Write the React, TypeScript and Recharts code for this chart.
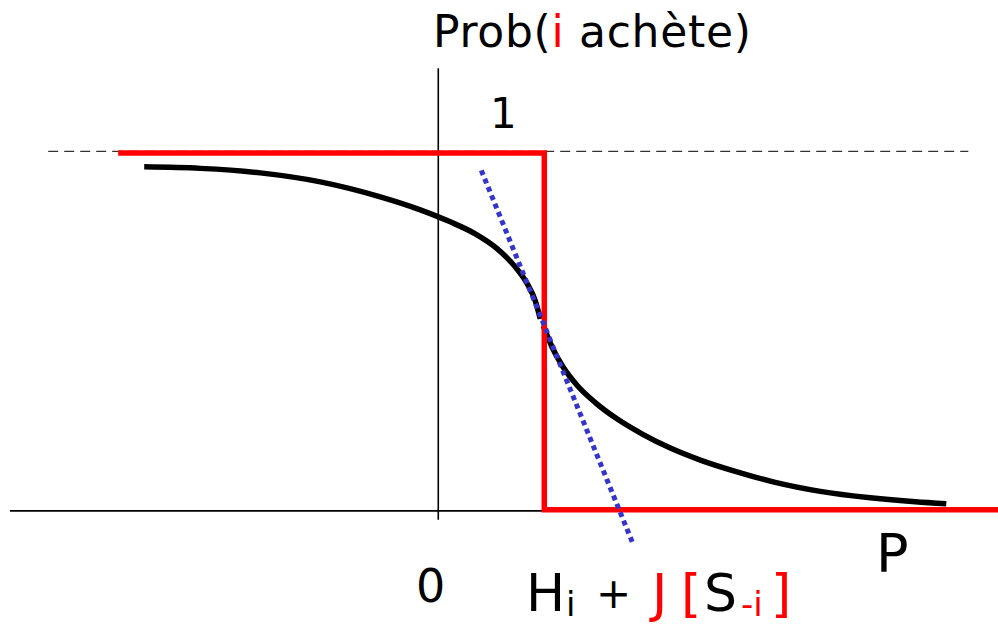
import React from "react";
import { LineChart, Line, XAxis, YAxis } from "recharts";

// price axis: 0 at the origin, 1 at H_i + J[S_-i]
const X_DOMAIN: [number, number] = [-4.04, 5.28];
const Y_DOMAIN: [number, number] = [-0.12, 1.24];

// smooth logit response, left branch (up to the threshold)
const logitLeftX = [-2.774, -2.245, -1.679, -1.113, -0.547, -0.170, 0.113, 0.349, 0.557, 0.726, 0.840, 0.915, 0.962];
const logitLeftY = [0.9567, 0.9525, 0.94, 0.915, 0.8733, 0.8372, 0.8038, 0.7704, 0.7287, 0.6786, 0.6313, 0.584, 0.534];

// right branch (past the threshold)
const logitRightX = [0.991, 1.075, 1.179, 1.311, 1.481, 1.689, 1.925, 2.189, 2.472, 2.802, 3.179, 3.604, 4.075, 4.5, 4.792];
const logitRightY = [0.5145, 0.4544, 0.3994, 0.3488, 0.3012, 0.2553, 0.2136, 0.1747, 0.1413, 0.1099, 0.0793, 0.0542, 0.0362, 0.025, 0.0195];

// deterministic choice: step at the threshold
const stepX = [-3.02, 1, 1, 5.28];
const stepY = [0.995, 0.995, 0.003, 0.003];

// tangent at the threshold
const tangentX = [0.406, 1.84];
const tangentY = [0.947, -0.094];

// horizontal guide at prob = 1
const guideX = [-3.68, 5.0];
const guideY = [1, 1];

// axes
const hAxisX = [-4.04, 5.28];
const hAxisY = [0, 0];
const vAxisX = [0, 0];
const vAxisY = [-0.025, 1.231];

const zip = (xs: number[], ys: number[]) => xs.map((x, i) => ({ x, y: ys[i] }));

const font = "'DejaVu Sans', sans-serif";

export default function App() {
  return (
    <div style={{ position: "absolute", left: 0, top: 0, width: 998, height: 625, background: "#fff" }}>
      <LineChart width={998} height={625} margin={{ top: 65, right: 0, bottom: 71, left: 10 }}>
        <XAxis type="number" dataKey="x" domain={X_DOMAIN} allowDataOverflow hide />
        <YAxis type="number" dataKey="y" domain={Y_DOMAIN} allowDataOverflow hide />
        <Line data={zip(hAxisX, hAxisY)} dataKey="y" type="linear" stroke="#000" strokeWidth={1.6} dot={false} isAnimationActive={false} />
        <Line data={zip(vAxisX, vAxisY)} dataKey="y" type="linear" stroke="#000" strokeWidth={1.6} dot={false} isAnimationActive={false} />
        <Line data={zip(guideX, guideY)} dataKey="y" type="linear" stroke="#333" strokeWidth={1.2} strokeDasharray="10 6" dot={false} isAnimationActive={false} />
        <Line data={zip(logitLeftX, logitLeftY)} dataKey="y" type="monotone" stroke="#000" strokeWidth={5.5} dot={false} isAnimationActive={false} />
        <Line data={zip(logitRightX, logitRightY)} dataKey="y" type="monotone" stroke="#000" strokeWidth={5.5} dot={false} isAnimationActive={false} />
        <Line data={zip(stepX, stepY)} dataKey="y" type="linear" stroke="#ff0000" strokeWidth={5.5} strokeLinejoin="miter" dot={false} isAnimationActive={false} />
        <Line data={zip(tangentX, tangentY)} dataKey="y" type="linear" stroke="#3535cc" strokeWidth={5} strokeDasharray="5 4" dot={false} isAnimationActive={false} />
      </LineChart>
      <svg width={998} height={625} style={{ position: "absolute", left: 0, top: 0, pointerEvents: "none" }}>
        <text x={433} y={47} fontFamily={font} fontSize={44} letterSpacing={0.7} fill="#000">
          Prob(<tspan fill="#ff0000">i</tspan> achète)
        </text>
        <text x={490} y={128} fontFamily={font} fontSize={42} fill="#000">1</text>
        <text x={416} y={602} fontFamily={font} fontSize={46} fill="#000">0</text>
        <text x={876} y={572} fontFamily={font} fontSize={54} fill="#000">P</text>
        <text y={611} fontFamily={font} fontSize={52} fill="#000">
          <tspan x={526}>H</tspan>
          <tspan x={566} fontSize={34} dy={5}>i</tspan>
          <tspan x={596} dy={-8} fontSize={42}>+</tspan>
          <tspan x={652} dy={3} fill="#ff0000">J</tspan>
          <tspan x={681} fill="#ff0000">[</tspan>
          <tspan x={704}>S</tspan>
          <tspan x={741} fill="#ff0000" fontSize={34} dy={5}>-i</tspan>
          <tspan x={771} fill="#ff0000" dy={-5}>]</tspan>
        </text>
      </svg>
    </div>
  );
}
